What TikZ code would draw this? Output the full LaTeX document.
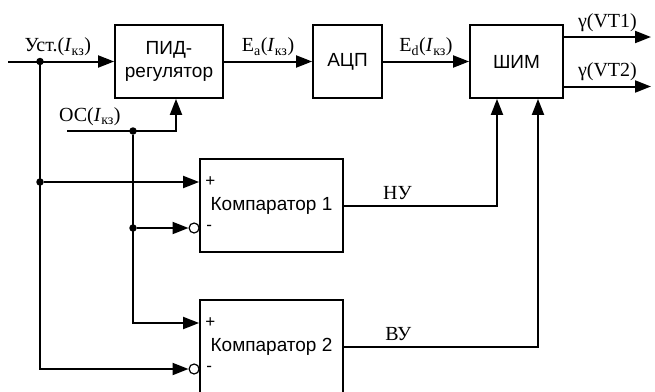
\documentclass[tikz,border=0pt]{standalone}
\usepackage{fontspec}
\setmainfont{Liberation Serif}
\setsansfont{Liberation Sans}
\usetikzlibrary{arrows.meta, positioning}

\begin{document}
\begin{tikzpicture}[
    x=1pt, y=-1pt,
    font=\fontsize{20}{22}\selectfont,
    block/.style={draw, line width=1.8pt, align=center, inner sep=0pt,
                  font=\sffamily\fontsize{19}{23}\selectfont},
    wire/.style={line width=2pt},
    arr/.style={wire, -{Triangle[length=16pt, width=12pt]}},
    dot/.style={circle, fill, inner sep=0pt, minimum size=7.5pt},
    inv/.style={circle, draw, line width=1.2pt, inner sep=0pt, minimum size=10pt},
    sign/.style={anchor=west, inner sep=0pt, font=\sffamily\fontsize{17}{17}\selectfont},
  ]
  \clip (0,0) rectangle (655,391);
  \node[block, minimum width=108pt, minimum height=73pt] (pid) at (169,61.5) {ПИД-\\регулятор};
  \node[block, minimum width=69pt, minimum height=73pt]  (adc) at (347.5,61.5) {АЦП};
  \node[block, minimum width=93pt, minimum height=73pt]  (pwm) at (516.5,61.5) {ШИМ};
  \node[block, minimum width=143pt, minimum height=93pt] (cmpa) at (271.5,205.5) {Компаратор 1};
  \node[block, minimum width=143pt, minimum height=93pt] (cmpb) at (271.5,346.5) {Компаратор 2};

  \coordinate (cmpa-p) at ([yshift=23.5pt]cmpa.west);
  \coordinate (cmpb-p) at ([yshift=23.5pt]cmpb.west);
  \node[inv] (cmpa-n) at ([xshift=-5pt, yshift=-22.5pt]cmpa.west) {};
  \node[inv] (cmpb-n) at ([xshift=-5pt, yshift=-22.5pt]cmpb.west) {};
  \node[sign] (cmpa-plus)  at ([xshift=6pt]cmpa-p) {+};
  \node[sign] (cmpa-minus) at ([xshift=12pt]cmpa-n) {-};
  \node[sign] (cmpb-plus)  at ([xshift=6pt]cmpb-p) {+};
  \node[sign] (cmpb-minus) at ([xshift=12pt]cmpb-n) {-};

  \coordinate (in) at (8,61.5);
  \coordinate (oc) at (67,131);
  \coordinate (pid-in) at ([xshift=7pt]pid.south);
  \coordinate (pwm-a) at ([xshift=-19.5pt]pwm.south);
  \coordinate (pwm-b) at ([xshift=21.5pt]pwm.south);
  \coordinate (out1) at (651,37);
  \coordinate (out2) at (651,86.5);
  \node[dot] (j1) at (40,61.5) {};
  \node[dot] (j2) at (j1 |- cmpa-p) {};
  \node[dot] (j3) at (133,131) {};
  \node[dot] (j4) at (j3 |- cmpa-n) {};

  \draw[arr] (in) -- (pid) node[pos=0.47, above=1pt] {Уст.(\textit{I}\textsubscript{кз})};
  \draw[arr] (j1) |- (cmpb-n);
  \draw[arr] (j2) -- (cmpa-p);
  \draw[arr] (oc) -| (pid-in) node[pos=0.105, above=1pt] {ОС(\textit{I}\textsubscript{кз})};
  \draw[arr] (j3) |- (cmpb-p);
  \draw[arr] (j4) -- (cmpa-n);
  \draw[arr] (pid) -- (adc) node[midway, above=1pt] {E\textsubscript{a}(\textit{I}\textsubscript{кз})};
  \draw[arr] (adc) -- (pwm) node[midway, above=1pt] {E\textsubscript{d}(\textit{I}\textsubscript{кз})};
  \draw[arr] (pwm.east |- out1) -- (out1) node[midway, above=1pt] {γ(VT1)};
  \draw[arr] (pwm.east |- out2) -- (out2) node[midway, above=1pt] {γ(VT2)};
  \draw[arr] (cmpa) -| (pwm-a) node[pos=0.175, above=1pt] {НУ};
  \draw[arr] (cmpb) -| (pwm-b) node[pos=0.14, above=1pt] {ВУ};
\end{tikzpicture}
\end{document}
